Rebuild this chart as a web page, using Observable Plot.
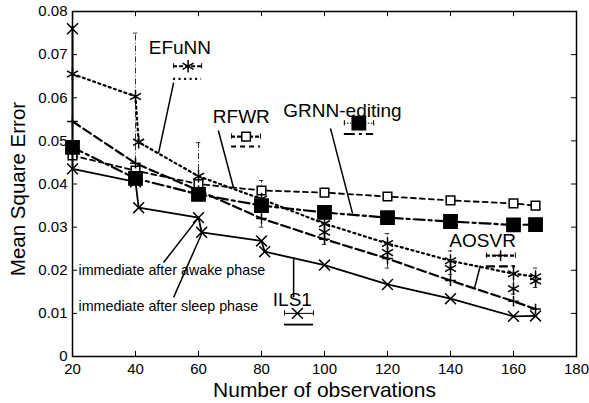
<!DOCTYPE html>
<html><head><meta charset="utf-8">
<script src="https://cdn.jsdelivr.net/npm/d3@7"></script>
<script src="https://cdn.jsdelivr.net/npm/@observablehq/plot@0.6"></script>
<style>body{margin:0;background:#fff;} svg{display:block;}</style>
</head><body><div id="chart"></div>
<script>
// ---- data ----
const xTicks = [20, 40, 60, 80, 100, 120, 140, 160, 180];
const yTicks = [0, 0.01, 0.02, 0.03, 0.04, 0.05, 0.06, 0.07, 0.08];
const xObs = [20, 40, 60, 80, 100, 120, 140, 160, 167];
const rfwrMSE = [0.0466, 0.0431, 0.0400, 0.0385, 0.0380, 0.0371, 0.0362, 0.0355, 0.0350];
const grnnMSE = [0.0485, 0.0413, 0.0376, 0.0350, 0.0334, 0.0322, 0.0313, 0.0305, 0.0306];
const aosvrMSE = [0.0545, 0.0448, 0.0385, 0.0320, 0.0272, 0.0227, 0.0176, 0.0128, 0.0110];
const efunnX = [20, 40, 41, 60, 80, 100, 120, 140, 160, 167];
const efunnMSE = [0.0655, 0.0603, 0.0497, 0.0418, 0.0365, 0.0308, 0.0262, 0.0222, 0.0192, 0.0185];
const efunnSleepX = [100, 120, 140, 160, 167];
const efunnSleepMSE = [0.0288, 0.0241, 0.0204, 0.0157, 0.0175];
const ils1X = [20, 20, 40, 41, 60, 61, 80, 81, 100, 120, 140, 160, 167];
const ils1MSE = [0.0760, 0.0435, 0.0405, 0.0345, 0.0322, 0.0288, 0.0268, 0.0243, 0.0212, 0.0167, 0.0134, 0.0093, 0.0094];
const errX = [20, 40, 60, 80, 100, 120, 140, 160, 167];
const errLo = [0.047, 0.040, 0.038, 0.030, 0.026, 0.0205, 0.019, 0.0145, 0.016];
const errHi = [0.0765, 0.0750, 0.0496, 0.0408, 0.0325, 0.0285, 0.0245, 0.021, 0.0205];

// annotations (data coordinates)
const seriesNames = ["EFuNN", "RFWR", "GRNN-editing", "AOSVR", "ILS1"];
const nameX = [54.1, 73.6, 105.7, 150.2, 89.8];
const nameY = [0.0715, 0.0555, 0.0570, 0.0269, 0.0132];
const keyX = [56.7, 75.1, 110.9, 155.9, 91.4];
const keyY = [0.0673, 0.0510, 0.0541, 0.0234, 0.0100];
const keyX1 = [52.1, 70.5, 106.3, 151.4, 87.3];
const keyX2 = [61.0, 79.7, 115.6, 160.6, 96.5];
const keyLineY = [0.0644, 0.0487, 0.0516, 0.0209, 0.0074];
const pointerX1 = [52.1, 66.3, 101.9, 149.5, 90.2, 48.9, 52.1];
const pointerY1 = [0.0635, 0.0524, 0.0529, 0.0211, 0.0230, 0.0218, 0.0137];
const pointerX2 = [47.3, 71.1, 108.9, 147.6, 90.2, 60.0, 61.3];
const pointerY2 = [0.0471, 0.0392, 0.0332, 0.0158, 0.0137, 0.0322, 0.0290];
const notes = ["immediate after awake phase", "immediate after sleep phase"];
const noteX = [21.9, 21.9];
const noteY = [0.0199, 0.0117];

// ---- tables ----
const pts = (xs, ys) => xs.map((x, i) => ({x, y: ys[i]}));
const rfwr = pts(xObs, rfwrMSE), grnn = pts(xObs, grnnMSE), aosvr = pts(xObs, aosvrMSE);
const efunn = pts(efunnX, efunnMSE), efunnSleep = pts(efunnSleepX, efunnSleepMSE);
const ils1 = pts(ils1X, ils1MSE);
const errs = errX.map((x, i) => ({x, lo: errLo[i], hi: errHi[i]}));
const names = seriesNames.map((t, i) => ({t, x: nameX[i], y: nameY[i], kx: keyX[i], ky: keyY[i], x1: keyX1[i], x2: keyX2[i], ly: keyLineY[i]}));
const pointers = pointerX1.map((x1, i) => ({x1, y1: pointerY1[i], x2: pointerX2[i], y2: pointerY2[i]}));
const noteData = notes.map((t, i) => ({t, x: noteX[i], y: noteY[i]}));

const styles = {
  "EFuNN": {dash: "2,3.5", w: 2.2, sym: "asterisk", r: 6, fill: "none"},
  "RFWR": {dash: "5,4", w: 1.8, sym: "square2", r: 5.5, fill: "white"},
  "GRNN-editing": {dash: "11,4,3,4", w: 2.2, sym: "square", r: 7.5, fill: "black"},
  "AOSVR": {dash: "9,4", w: 2.2, sym: "plus", r: 3.5, fill: "none"},
  "ILS1": {dash: null, w: 1.8, sym: "times", r: 5, fill: "none"}
};
function keyMarks(name) {
  const s = styles[name];
  const d = names.filter(n => n.t === name);
  return [
    Plot.ruleY(d, {y: "ky", x1: "x1", x2: "x2", stroke: "black", strokeWidth: name === "ILS1" || name === "GRNN-editing" ? 1 : 2.2, strokeDasharray: name === "ILS1" ? null : (name === "GRNN-editing" ? "1.5,1.5" : "4,2")}),
    Plot.ruleX(d, {x: "x1", y1: d0 => d0.ky - 0.0006, y2: d0 => d0.ky + 0.0006, stroke: "black", strokeWidth: 1}),
    Plot.ruleX(d, {x: "x2", y1: d0 => d0.ky - 0.0006, y2: d0 => d0.ky + 0.0006, stroke: "black", strokeWidth: 1}),
    Plot.ruleY(d, {y: "ly", x1: "x1", x2: "x2", stroke: "black", strokeWidth: s.w, strokeDasharray: s.dash}),
    Plot.dot(d, {x: "kx", y: "ky", symbol: () => s.sym, r: s.r, stroke: "black", strokeWidth: 1.5, fill: s.fill})
  ];
}
function seriesMarks(name, data) {
  const s = styles[name];
  return [
    Plot.line(data, {x: "x", y: "y", stroke: "black", strokeWidth: s.w, strokeDasharray: s.dash}),
    Plot.dot(data, {x: "x", y: "y", symbol: () => s.sym, r: s.r, stroke: "black", strokeWidth: 1.5, fill: s.fill})
  ];
}

const chart = Plot.plot({
  width: 589, height: 403,
  marginLeft: 72, marginRight: 13, marginTop: 11, marginBottom: 47,
  x: {domain: [20, 180]},
  y: {domain: [0, 0.08]},
  style: {fontFamily: "'Liberation Sans', Arial, Helvetica, sans-serif", fontSize: "14px", background: "white", color: "black"},
  marks: [
    // error bars
    Plot.ruleX(errs, {x: "x", y1: "lo", y2: "hi", stroke: "#333", strokeWidth: 1, strokeDasharray: "6,2,1,2"}),
    Plot.ruleY(errs, {y: "hi", x1: d => d.x - 0.7, x2: d => d.x + 0.7, stroke: "#333", strokeWidth: 1}),
    Plot.ruleY(errs, {y: "lo", x1: d => d.x - 0.7, x2: d => d.x + 0.7, stroke: "#333", strokeWidth: 1}),
    ...seriesMarks("RFWR", rfwr),
    ...seriesMarks("AOSVR", aosvr),
    ...seriesMarks("EFuNN", efunn),
    Plot.dot(efunnSleep, {x: "x", y: "y", symbol: "asterisk", r: 6, stroke: "black", strokeWidth: 1.5}),
    ...seriesMarks("GRNN-editing", grnn),
    ...seriesMarks("ILS1", ils1),
    // pointers
    Plot.link(pointers, {x1: "x1", y1: "y1", x2: "x2", y2: "y2", stroke: "black", strokeWidth: 1.5}),
    // labels and keys
    Plot.text(names, {x: "x", y: "y", text: "t", fontSize: 19, fill: "black"}),
    ...seriesNames.flatMap(keyMarks),
    Plot.text(noteData, {x: "x", y: "y", text: "t", textAnchor: "start", fontSize: 14.3, fill: "black"}),
    // axes
    Plot.frame({stroke: "black", strokeWidth: 1.5}),
    Plot.ruleX(xTicks, {x: d => d, y1: 0, y2: 0.0012, stroke: "black"}),
    Plot.ruleX(xTicks, {x: d => d, y1: 0.08, y2: 0.0788, stroke: "black"}),
    Plot.ruleY(yTicks, {y: d => d, x1: 20, x2: 21.6, stroke: "black"}),
    Plot.ruleY(yTicks, {y: d => d, x1: 180, x2: 178.4, stroke: "black"}),
    Plot.axisX(xTicks, {tickSize: 0, tickPadding: 7, label: null, fontSize: 15, tickFormat: d => String(d)}),
    Plot.axisY(yTicks, {tickSize: 0, tickPadding: 5, label: null, fontSize: 15, tickFormat: d => d === 0 ? "0" : d.toFixed(2)}),
    Plot.text(["Number of observations"], {frameAnchor: "bottom", lineAnchor: "middle", dy: 34, fontSize: 21, fill: "black"}),
    Plot.text(["Mean Square Error"], {frameAnchor: "left", textAnchor: "middle", lineAnchor: "middle", rotate: -90, dx: -54, dy: 5, fontSize: 20.5, fill: "black"})
  ]
});
document.getElementById("chart").appendChild(chart);
</script>
</body></html>
